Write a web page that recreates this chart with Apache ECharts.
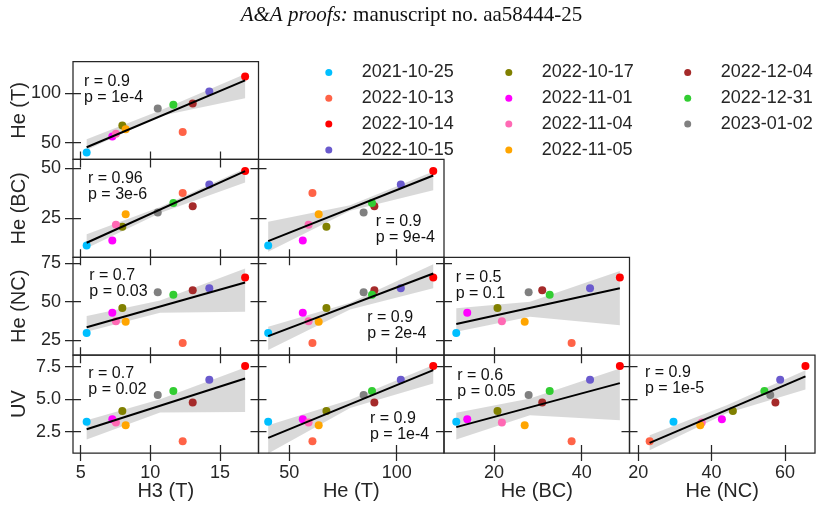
<!DOCTYPE html>
<html>
<head>
<meta charset="utf-8">
<title>pair plot</title>
<script src="https://cdn.jsdelivr.net/npm/echarts@6/dist/echarts.min.js"></script>
<style>
html, body { margin: 0; padding: 0; background: #fff; }
#chart { width: 823px; height: 513px; }
</style>
</head>
<body>
<div id="chart"></div>
<script>
// one entry per observation date
var dates = ['2021-10-25', '2022-10-13', '2022-10-14', '2022-10-15',
             '2022-10-17', '2022-11-01', '2022-11-04', '2022-11-05',
             '2022-12-04', '2022-12-31', '2023-01-02'];
var colors = ['#00bfff', '#ff6347', '#ff0000', '#6a5acd',
              '#808000', '#ff00ff', '#ff69b4', '#ffa500',
              '#a52a2a', '#32cd32', '#808080'];

var h3T  = [5.43, 12.32, 16.8, 14.23, 7.99, 7.27, 7.53, 8.23, 13.04, 11.65, 10.53];
var heT  = [40.2, 60.8, 117.0, 101.9, 67.3, 56.3, 59.0, 63.7, 89.6, 88.5, 84.6];
var heBC = [11.4, 37.7, 48.7, 41.9, 20.8, 13.9, 21.8, 27.0, 31.0, 32.7, 27.9];
var heNC = [29.6, 23.1, 65.6, 58.7, 45.8, 42.8, 37.3, 36.9, 57.4, 54.4, 56.0];
var uv   = [3.26, 1.77, 7.56, 6.49, 4.10, 3.46, 3.20, 3.00, 4.75, 5.62, 5.33];

// tick labels
var h3Ticks = [5, 10, 15];
var heTTicks = [50, 100];
var heBCxTicks = [20, 40];
var heNCxTicks = [20, 40, 60];
var heBCyTicks = [25, 50];
var heNCyTicks = [25, 50, 75];
var uvTicks = [2.5, 5.0, 7.5];

// correlation labels, panel order: (0,0) (1,0) (1,1) (2,0) (2,1) (2,2) (3,0) (3,1) (3,2) (3,3)
var rLabels = ['r = 0.9', 'r = 0.96', 'r = 0.9', 'r = 0.7', 'r = 0.9', 'r = 0.5', 'r = 0.7', 'r = 0.9', 'r = 0.6', 'r = 0.9'];
var pLabels = ['p = 1e-4', 'p = 3e-6', 'p = 9e-4', 'p = 0.03', 'p = 2e-4', 'p = 0.1', 'p = 0.02', 'p = 1e-4', 'p = 0.05', 'p = 1e-5'];

// confidence band: [x, lower, upper]
var bandHeT_H3   = [[5.43, 42.6, 53.4], [10.7, 77.1, 82.5], [16.8, 94.9, 119.5]];
var bandBC_H3    = [[5.43, 10.0, 17.0], [10.7, 27.7, 30.7], [16.8, 43.0, 50.0]];
var bandBC_HeT   = [[40.2, 8.3, 23.3], [78.3, 28.8, 31.5], [117.0, 39.0, 48.5]];
var bandNC_H3    = [[5.43, 30.4, 40.6], [10.7, 42.8, 50.6], [16.8, 43.4, 71.5]];
var bandNC_HeT   = [[40.2, 18.5, 33.6], [78.3, 44.9, 49.3], [117.0, 58.6, 74.2]];
var bandNC_BC    = [[11.4, 30.4, 45.6], [28.2, 40.1, 49.9], [48.7, 34.7, 69.8]];
var bandUV_H3    = [[5.43, 1.90, 3.38], [10.7, 3.97, 4.99], [16.8, 4.02, 7.44]];
var bandUV_HeT   = [[40.2, 0.82, 3.00], [78.3, 4.33, 4.95], [117.0, 6.20, 7.62]];
var bandUV_BC    = [[11.4, 1.90, 3.95], [28.2, 3.77, 5.05], [48.7, 3.38, 7.36]];
var bandUV_NC    = [[23.1, 1.08, 2.23], [44.1, 3.91, 4.53], [65.6, 5.74, 7.23]];
var bands = [bandHeT_H3, bandBC_H3, bandBC_HeT, bandNC_H3, bandNC_HeT, bandNC_BC,
             bandUV_H3, bandUV_HeT, bandUV_BC, bandUV_NC];

var xVars = [h3T, heT, heBC, heNC];
var yVars = [heT, heBC, heNC, uv];
var xNames = ['H3 (T)', 'He (T)', 'He (BC)', 'He (NC)'];
var yNames = ['He (T)', 'He (BC)', 'He (NC)', 'UV'];
var xTicks = [h3Ticks, heTTicks, heBCxTicks, heNCxTicks];
var yTicks = [heTTicks, heBCyTicks, heNCyTicks, uvTicks];
var xLims = [[4.45, 17.76], [35.7, 122.0], [8.6, 50.9], [17.6, 68.2]];
var yLims = [[33.1, 132.2], [5.5, 54.5], [15.2, 78.7], [0.86, 8.39]];

// layout
var colLeft = [73, 258.5, 444, 629.5], colW = 185.5;
var rowTop = [61.5, 159.4, 257.3, 355.1], rowH = 97.9;
var textPos = [[84, 81.5], [88, 179], [375.7, 221.3], [89.3, 275.5], [367.3, 317.5],
               [455.7, 277.3], [88.3, 373.8], [370, 418.7], [457.3, 375.5], [645, 372.8]];

var INK = '#262626';
var FONT = '"Liberation Sans", Arial, sans-serif';

function fitLine(xs, ys) {
  var n = xs.length, mx = 0, my = 0, sxy = 0, sxx = 0;
  for (var i = 0; i < n; i++) { mx += xs[i] / n; my += ys[i] / n; }
  for (var j = 0; j < n; j++) {
    sxy += (xs[j] - mx) * (ys[j] - my);
    sxx += (xs[j] - mx) * (xs[j] - mx);
  }
  var b = sxy / sxx, a = my - b * mx;
  var x0 = Math.min.apply(null, xs), x1 = Math.max.apply(null, xs);
  return [[x0, a + b * x0], [x1, a + b * x1]];
}

function bandSeries(k, band) {
  return {
    type: 'custom', xAxisIndex: k, yAxisIndex: k, z: 1, silent: true,
    data: [[band[0][0], band[0][1]]],
    renderItem: function (params, api) {
      var pts = [];
      band.forEach(function (b) { pts.push(api.coord([b[0], b[2]])); });
      for (var i = band.length - 1; i >= 0; i--) pts.push(api.coord([band[i][0], band[i][1]]));
      return { type: 'polygon', shape: { points: pts }, style: { fill: 'rgba(0,0,0,0.15)' } };
    }
  };
}

var grids = [], xAxes = [], yAxes = [], series = [], graphics = [];
var k = 0;
for (var r = 0; r < 4; r++) {
  for (var c = 0; c <= r; c++) {
    grids.push({
      left: colLeft[c], top: rowTop[r], width: colW, height: rowH,
      show: true, borderColor: INK, borderWidth: 1.25, backgroundColor: 'transparent',
      containLabel: false, outerBoundsMode: 'none'
    });
    xAxes.push({
      type: 'value', gridIndex: k, min: xLims[c][0], max: xLims[c][1],
      offset: -8,
      axisLine: { show: false }, splitLine: { show: false },
      axisTick: { show: true, length: 16, customValues: xTicks[c], lineStyle: { color: INK, width: 1.25 } },
      axisLabel: { show: r === 3, customValues: xTicks[c], margin: 19, fontSize: 18, color: INK, fontFamily: FONT },
      name: r === 3 ? xNames[c] : '', nameLocation: 'middle', nameGap: 36, nameMoveOverlap: false,
      nameTextStyle: { fontSize: 20, color: INK, fontFamily: FONT }
    });
    yAxes.push({
      type: 'value', gridIndex: k, min: yLims[r][0], max: yLims[r][1],
      offset: -8,
      axisLine: { show: false }, splitLine: { show: false },
      axisTick: { show: true, length: 16, customValues: yTicks[r], lineStyle: { color: INK, width: 1.25 } },
      axisLabel: {
        show: c === 0, customValues: yTicks[r], margin: 20, fontSize: 18, color: INK, fontFamily: FONT,
        formatter: r === 3 ? function (v) { return v.toFixed(1); } : null
      },
      name: c === 0 ? yNames[r] : '', nameLocation: 'middle', nameGap: 52, nameMoveOverlap: false,
      nameTextStyle: { fontSize: 20, color: INK, fontFamily: FONT }
    });

    series.push(bandSeries(k, bands[k]));
    for (var i = 0; i < dates.length; i++) {
      series.push({
        type: 'scatter', name: dates[i], xAxisIndex: k, yAxisIndex: k, z: 3,
        symbolSize: 8, itemStyle: { color: colors[i], opacity: 1 },
        data: [[xVars[c][i], yVars[r][i]]]
      });
    }
    series.push({
      type: 'line', xAxisIndex: k, yAxisIndex: k, z: 4, silent: true,
      symbol: 'none', lineStyle: { color: '#000', width: 2 },
      data: fitLine(xVars[c], yVars[r])
    });

    graphics.push({
      type: 'text', x: textPos[k][0], y: textPos[k][1] - 8, silent: true,
      style: {
        text: rLabels[k] + '\n' + pLabels[k], fontSize: 16, fontFamily: FONT,
        fill: '#111', lineHeight: 16, verticalAlign: 'top'
      }
    });
    k++;
  }
}

var legendLeft = [320.3, 500.3, 679.2];
var legends = [0, 1, 2].map(function (j) {
  return {
    data: dates.slice(j * 4, j * 4 + 4), orient: 'vertical',
    left: legendLeft[j], top: 57.5, itemWidth: 56, itemHeight: 7, itemGap: 5.8,
    icon: 'circle', selectedMode: false,
    textStyle: { fontSize: 18, lineHeight: 20, color: INK, fontFamily: FONT }
  };
});

var chart = echarts.init(document.getElementById('chart'));
chart.setOption({
  animation: false,
  backgroundColor: '#fff',
  title: {
    text: '{i|A&A proofs:} manuscript no. aa58444-25',
    left: 'center', top: 0,
    textStyle: {
      fontSize: 21, fontWeight: 'normal', color: '#111', fontFamily: '"Liberation Serif", serif',
      rich: { i: { fontStyle: 'italic', fontSize: 21, color: '#111', fontFamily: '"Liberation Serif", serif' } }
    }
  },
  legend: legends,
  grid: grids,
  xAxis: xAxes,
  yAxis: yAxes,
  series: series,
  graphic: graphics
});
</script>
</body>
</html>
